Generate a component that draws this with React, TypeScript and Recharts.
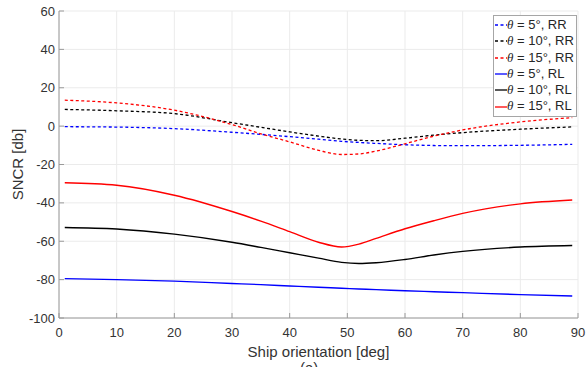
import React from "react";
import { LineChart, Line, XAxis, YAxis, CartesianGrid, Legend, Label } from "recharts";

const orientation = [1, 10, 20, 30, 35, 40, 45, 49, 52, 55, 60, 65, 70, 80, 89];
const rr5 = [-0.3, -0.5, -1.3, -3.2, -4.3, -5.5, -6.8, -7.9, -8.5, -9.0, -9.7, -10.1, -10.2, -10.0, -9.5];
const rr10 = [8.7, 8.0, 6.5, 1.8, -0.6, -3.0, -5.2, -6.7, -7.4, -7.6, -6.3, -4.7, -3.4, -1.6, -0.4];
const rr15 = [13.5, 12.1, 8.3, 0.8, -4.0, -8.2, -12.6, -14.8, -14.5, -13.0, -9.2, -5.2, -2.0, 2.2, 4.4];
const rl5 = [-79.5, -80.0, -80.8, -82.0, -82.6, -83.3, -84.0, -84.5, -84.9, -85.2, -85.8, -86.3, -86.8, -87.8, -88.5];
const rl10 = [-52.8, -53.6, -56.3, -60.5, -63.2, -66.0, -68.8, -71.0, -71.6, -71.2, -69.5, -67.2, -65.3, -63.0, -62.2];
const rl15 = [-29.5, -30.8, -36.0, -44.5, -49.5, -55.0, -60.5, -63.0, -61.5, -58.5, -53.5, -49.3, -45.5, -40.5, -38.5];

const xTicks = [0, 10, 20, 30, 40, 50, 60, 70, 80, 90];
const yTicks = [-100, -80, -60, -40, -20, 0, 20, 40, 60];

const seriesDefs = [
  { key: "rr5", name: "5°, RR", color: "#0000ff", dashed: true },
  { key: "rr10", name: "10°, RR", color: "#000000", dashed: true },
  { key: "rr15", name: "15°, RR", color: "#ff0000", dashed: true },
  { key: "rl5", name: "5°, RL", color: "#0000ff", dashed: false },
  { key: "rl10", name: "10°, RL", color: "#000000", dashed: false },
  { key: "rl15", name: "15°, RL", color: "#ff0000", dashed: false },
];

const rows = orientation.map((x, i) => ({
  x,
  rr5: rr5[i],
  rr10: rr10[i],
  rr15: rr15[i],
  rl5: rl5[i],
  rl10: rl10[i],
  rl15: rl15[i],
}));

const FONT = "'Liberation Sans', Arial, Helvetica, sans-serif";
const TEXT = "#333333";
const AXIS = "#9a9a9a";

const BottomTick = (p: any) => (
  <g>
    <line x1={p.x} x2={p.x} y1={p.y} y2={p.y - 5} stroke={AXIS} />
    <text x={p.x} y={p.y + 19} textAnchor="middle" fontSize={13} fontFamily={FONT} fill={TEXT}>
      {p.payload.value}
    </text>
  </g>
);
const TopTick = (p: any) => <line x1={p.x} x2={p.x} y1={p.y} y2={p.y + 5} stroke={AXIS} />;
const LeftTick = (p: any) => (
  <g>
    <line x1={p.x} x2={p.x + 5} y1={p.y} y2={p.y} stroke={AXIS} />
    <text x={p.x - 4} y={p.y + 4.5} textAnchor="end" fontSize={13} fontFamily={FONT} fill={TEXT}>
      {p.payload.value}
    </text>
  </g>
);
const RightTick = (p: any) => <line x1={p.x} x2={p.x - 5} y1={p.y} y2={p.y} stroke={AXIS} />;

const YLabel = (props: any) => {
  const vb = props.viewBox;
  const cx = vb.x + 17;
  const cy = vb.y + vb.height / 2;
  return (
    <text
      x={cx}
      y={cy}
      transform={`rotate(-90 ${cx} ${cy})`}
      textAnchor="middle"
      dominantBaseline="central"
      fontSize={15}
      fontFamily={FONT}
      fill={TEXT}
    >
      SNCR [db]
    </text>
  );
};

const LegendBox = () => (
  <div
    style={{
      border: "1px solid #a6a6a6",
      background: "#fff",
      padding: "1px 2px 1px 1px",
      fontFamily: FONT,
      fontSize: 13,
      color: "#262626",
      lineHeight: "16.3px",
      whiteSpace: "nowrap",
    }}
  >
    {seriesDefs.map((s) => (
      <div key={s.key} style={{ display: "flex", alignItems: "center", height: 16.3 }}>
        <svg width={12} height={4} style={{ display: "block" }}>
          <line
            x1={0}
            x2={12}
            y1={2}
            y2={2}
            stroke={s.color}
            strokeWidth={1.3}
            strokeDasharray={s.dashed ? "3 2.5" : undefined}
          />
        </svg>
        <span>
          <span style={{ fontStyle: "italic", fontFamily: "'Liberation Serif', 'DejaVu Serif', serif" }}>θ</span>
          {" = " + s.name}
        </span>
      </div>
    ))}
  </div>
);

export default function App() {
  return (
    <div style={{ position: "absolute", left: 0, top: 0, width: 587, height: 367, background: "#fff", overflow: "hidden" }}>
      <LineChart width={587} height={367} data={rows} margin={{ top: 11, right: 9, bottom: 0, left: 0 }}>
        <CartesianGrid xAxisId="b" yAxisId="l" stroke="#ebebeb" ticks={undefined as any} />
        <XAxis
          xAxisId="b"
          dataKey="x"
          type="number"
          domain={[0, 90]}
          ticks={xTicks}
          interval={0}
          height={49}
          stroke={AXIS}
          tickLine={false}
          tickSize={0}
          tickMargin={0}
          tick={<BottomTick />}
        >
          <Label
            value="Ship orientation [deg]"
            position="insideBottom"
            offset={10}
            style={{ fontSize: 15, fontFamily: FONT, fill: TEXT }}
          />
        </XAxis>
        <XAxis
          xAxisId="t"
          dataKey="x"
          type="number"
          orientation="top"
          domain={[0, 90]}
          ticks={xTicks}
          interval={0}
          height={0}
          stroke={AXIS}
          tickLine={false}
          tickSize={0}
          tickMargin={0}
          tick={<TopTick />}
        />
        <YAxis
          yAxisId="l"
          type="number"
          domain={[-100, 60]}
          ticks={yTicks}
          interval={0}
          width={59}
          stroke={AXIS}
          tickLine={false}
          tickSize={0}
          tickMargin={0}
          tick={<LeftTick />}
        >
          <Label content={<YLabel />} />
        </YAxis>
        <YAxis
          yAxisId="r"
          type="number"
          orientation="right"
          domain={[-100, 60]}
          ticks={yTicks}
          interval={0}
          width={0}
          stroke={AXIS}
          tickLine={false}
          tickSize={0}
          tickMargin={0}
          tick={<RightTick />}
        />
        {seriesDefs.map((s) => (
          <Line
            key={s.key}
            xAxisId="b"
            yAxisId="l"
            dataKey={s.key}
            name={s.name}
            type="monotone"
            stroke={s.color}
            strokeWidth={s.dashed ? 1.3 : 1.4}
            strokeDasharray={s.dashed ? "3 2.5" : undefined}
            dot={false}
            activeDot={false}
            isAnimationActive={false}
          />
        ))}
        <Legend
          layout="vertical"
          align="center"
          verticalAlign="middle"
          content={<LegendBox />}
          wrapperStyle={{ position: "absolute", left: 493, top: 15, width: "auto" }}
        />
      </LineChart>
      <div
        style={{
          position: "absolute",
          left: 300,
          top: 359,
          fontFamily: FONT,
          fontSize: 15,
          color: TEXT,
        }}
      >
        (a)
      </div>
    </div>
  );
}
